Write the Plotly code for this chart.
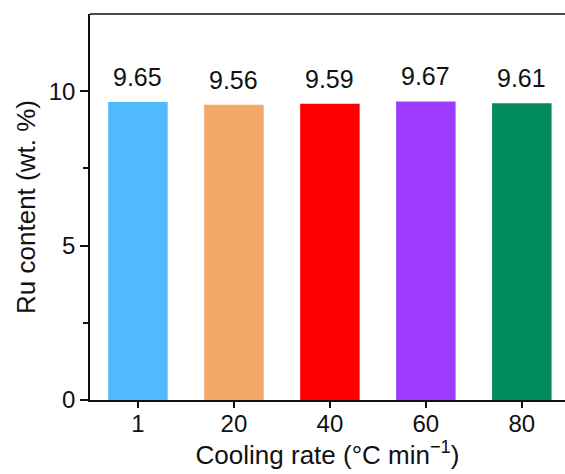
import plotly.graph_objects as go

categories = ["1", "20", "40", "60", "80"]
ru_content = [9.65, 9.56, 9.59, 9.67, 9.61]
bar_colors = ["#50BAFF", "#F3A768", "#FF0000", "#9D3CFF", "#008A5E"]
y_ticks = [0, 5, 10]
y_minor_ticks = [2.5, 7.5]

FONT = "Liberation Sans, Arial, sans-serif"
INK = "#111111"

xs = list(range(len(categories)))

fig = go.Figure()
fig.add_trace(go.Bar(
    x=xs,
    y=ru_content,
    width=0.62,
    marker=dict(color=bar_colors, line=dict(width=0)),
    hoverinfo="x+y",
))

for xi, v in zip(xs, ru_content):
    fig.add_annotation(
        x=xi, y=v, text=f"{v:.2f}", showarrow=False,
        xanchor="center", yanchor="bottom", yshift=9,
        font=dict(size=25, color=INK, family=FONT),
    )

# top frame line (the plot frame is open on the right in the reference)
fig.add_shape(type="line", xref="paper", yref="paper", x0=0, x1=1, y0=1, y1=1,
              line=dict(color=INK, width=1.6))

fig.update_layout(
    width=565, height=474,
    margin=dict(l=90, r=0, t=14, b=74),
    paper_bgcolor="white", plot_bgcolor="white",
    font=dict(family=FONT, size=24, color=INK),
    showlegend=False,
)
fig.update_xaxes(
    tickmode="array",
    tickvals=xs,
    ticktext=categories,
    range=[-0.5, 4.45],
    showline=True, linecolor=INK, linewidth=1.6, mirror=False,
    ticks="outside", ticklen=6, tickwidth=1.6, tickcolor=INK,
    ticklabelstandoff=-5,
    showgrid=False, zeroline=False,
    title=dict(text="Cooling rate (°C min<sup>−1</sup>)", standoff=2, font=dict(size=26, family=FONT, color=INK)),
    tickfont=dict(size=24, family=FONT, color=INK),
)
fig.update_yaxes(
    range=[0, 12.5],
    tickmode="array", tickvals=y_ticks,
    showline=True, linecolor=INK, linewidth=1.6, mirror=False,
    ticks="outside", ticklen=8, tickwidth=1.6, tickcolor=INK,
    minor=dict(tickvals=y_minor_ticks, ticks="outside", ticklen=5, tickwidth=1.6, tickcolor=INK),
    showgrid=False, zeroline=False,
    title=dict(text="Ru content (wt. %)", standoff=6, font=dict(size=26, family=FONT, color=INK)),
    tickfont=dict(size=24, family=FONT, color=INK),
)

fig.write_html(
    "out.html",
    config={"displayModeBar": False},
    post_script=(
        "document.body.style.margin='0';"
        "document.body.style.overflow='hidden';"
        "document.documentElement.style.overflow='hidden';"
    ),
)
